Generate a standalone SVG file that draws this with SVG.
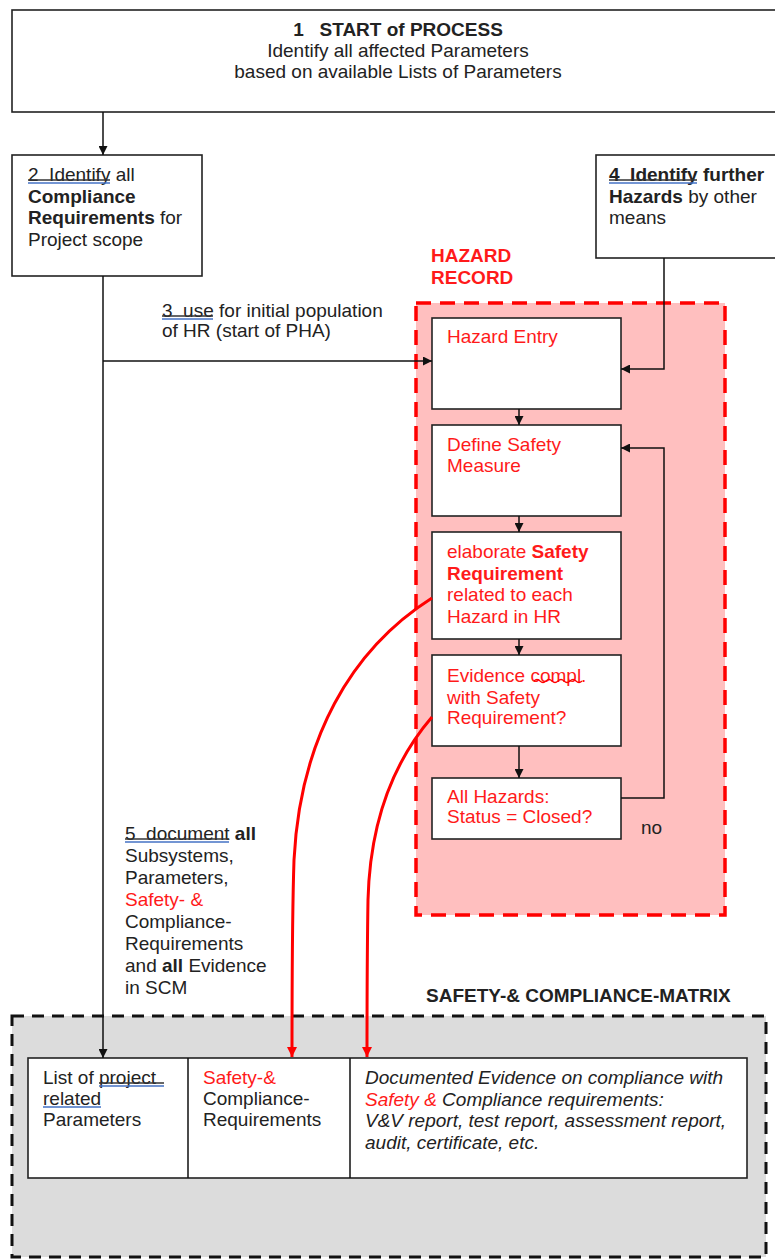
<svg xmlns="http://www.w3.org/2000/svg" width="775" height="1259" viewBox="0 0 775 1259">
  <defs>
    <marker id="ah" viewBox="0 0 10 10" refX="10" refY="5" markerWidth="9" markerHeight="9" markerUnits="userSpaceOnUse" orient="auto">
      <path d="M0,0 L10,5 L0,10 z" fill="#111"/>
    </marker>
    <marker id="ahr" viewBox="0 0 10 10" refX="10" refY="5" markerWidth="10" markerHeight="10" markerUnits="userSpaceOnUse" orient="auto">
      <path d="M0,0 L10,5 L0,10 z" fill="#ff0000"/>
    </marker>
    <style>
      text { font-family: "Liberation Sans", Arial, sans-serif; font-size: 19px; fill: #222; white-space: pre; }
      .b { font-weight: bold; }
      .r { fill: #ff1a1a; }
      .i { font-style: italic; }
      .box { fill: #ffffff; stroke: #222; stroke-width: 1.6; }
      .ln { fill: none; stroke: #111; stroke-width: 1.5; }
      .red { fill: none; stroke: #ff0000; stroke-width: 3; }
      .strike { stroke: #333; stroke-width: 1.3; fill: none; }
      .blue { stroke: #4472c4; stroke-width: 1.3; fill: none; }
    </style>
  </defs>

  <rect width="775" height="1259" fill="#ffffff"/>

  <!-- containers -->
  <g id="hazard-record">
    <rect x="416" y="303" width="309" height="612" fill="#ffbfbf" stroke="#ff0000" stroke-width="3.5" stroke-dasharray="15 9"/>
    <text class="b r" x="431" y="262">HAZARD</text>
    <text class="b r" x="431" y="284">RECORD</text>
  </g>

  <g id="scm">
    <rect x="12" y="1016" width="754" height="241" fill="#dcdcdc" stroke="#111" stroke-width="3" stroke-dasharray="12 8"/>
    <text class="b" x="426" y="1002" font-size="18">SAFETY-&amp; COMPLIANCE-MATRIX</text>
  </g>

  <!-- nodes -->
  <g id="n1-start">
    <rect class="box" x="12" y="10" width="780" height="102"/>
    <text x="398" y="36" text-anchor="middle" class="b">1&#160;&#160; START of PROCESS</text>
    <text x="398" y="57" text-anchor="middle">Identify all affected Parameters</text>
    <text x="398" y="78" text-anchor="middle">based on available Lists of Parameters</text>
  </g>

  <g id="n2-compliance">
    <rect class="box" x="12" y="155" width="190" height="121"/>
    <text x="28" y="181">2&#160; Identify all</text>
    <text x="28" y="203" class="b">Compliance</text>
    <text x="28" y="224"><tspan class="b">Requirements</tspan> for</text>
    <text x="28" y="246">Project scope</text>
    <path class="strike" d="M28,180 H110"/>
    <path class="blue" d="M28,183 H110"/>
  </g>

  <g id="n4-further-hazards">
    <rect class="box" x="596" y="155" width="190" height="103"/>
    <text x="609" y="181" class="b">4&#160; Identify further</text>
    <text x="609" y="203"><tspan class="b">Hazards</tspan> by other</text>
    <text x="609" y="224">means</text>
    <path class="strike" d="M609,180 H697"/>
    <path class="blue" d="M609,183 H697"/>
  </g>

  <g id="n-hazard-entry">
    <rect class="box" x="432" y="318" width="189" height="91"/>
    <text class="r" x="447" y="343">Hazard Entry</text>
  </g>

  <g id="n-define-measure">
    <rect class="box" x="432" y="425" width="189" height="91"/>
    <text class="r" x="447" y="451">Define Safety</text>
    <text class="r" x="447" y="472">Measure</text>
  </g>

  <g id="n-elaborate">
    <rect class="box" x="432" y="532" width="189" height="107"/>
    <text class="r" x="447" y="558">elaborate <tspan class="b">Safety</tspan></text>
    <text class="r b" x="447" y="580">Requirement</text>
    <text class="r" x="447" y="601">related to each</text>
    <text class="r" x="447" y="623">Hazard in HR</text>
  </g>

  <g id="n-evidence">
    <rect class="box" x="432" y="655" width="189" height="91"/>
    <text class="r" x="447" y="682">Evidence compl.</text>
    <text class="r" x="447" y="704">with Safety</text>
    <text class="r" x="447" y="724">Requirement?</text>
    <path d="M534,681 q3,-3 6,0 t6,0 t6,0 t6,0 t6,0 t6,0 t6,0 t6,0" fill="none" stroke="#ff0000" stroke-width="1.2"/>
  </g>

  <g id="n-all-closed">
    <rect class="box" x="432" y="778" width="189" height="61"/>
    <text class="r" x="447" y="803">All Hazards:</text>
    <text class="r" x="447" y="823">Status = Closed?</text>
  </g>

  <g id="n-matrix-table">
    <rect class="box" x="28" y="1058" width="719" height="120"/>
    <path class="ln" d="M188,1058 V1178 M350,1058 V1178"/>
    <text x="43" y="1084">List of project</text>
    <text x="43" y="1105">related</text>
    <text x="43" y="1126">Parameters</text>
    <path class="strike" d="M99,1083 H164"/>
    <path class="blue" d="M99,1086 H164 M43,1107 H101"/>
    <text class="r" x="203" y="1084">Safety-&amp;</text>
    <text x="203" y="1105">Compliance-</text>
    <text x="203" y="1126">Requirements</text>
    <text class="i" x="365" y="1084">Documented Evidence on compliance with</text>
    <text class="i" x="365" y="1106"><tspan class="r">Safety &amp;</tspan> Compliance requirements:</text>
    <text class="i" x="365" y="1127">V&amp;V report, test report, assessment report,</text>
    <text class="i" x="365" y="1149">audit, certificate, etc.</text>
  </g>

  <!-- connectors -->
  <g id="connectors">
    <path class="ln" d="M103,112 V155" marker-end="url(#ah)"/>
    <path class="ln" d="M103,276 V1058" marker-end="url(#ah)"/>
    <path class="ln" d="M103,361 H432" marker-end="url(#ah)"/>
    <path class="ln" d="M664,258 V369 H621" marker-end="url(#ah)"/>
    <path class="ln" d="M519,409 V425" marker-end="url(#ah)"/>
    <path class="ln" d="M519,516 V532" marker-end="url(#ah)"/>
    <path class="ln" d="M519,639 V655" marker-end="url(#ah)"/>
    <path class="ln" d="M519,746 V778" stroke-width="2.5" marker-end="url(#ah)"/>
    <path class="ln" d="M621,798 H664 V448 H621" marker-end="url(#ah)"/>
    <path class="red" d="M432,598 C350,650 300,740 294,860 C292,920 292,980 292,1057" marker-end="url(#ahr)"/>
    <path class="red" d="M432,717 C395,760 370,820 368,900 C367,960 367,1000 367,1057" marker-end="url(#ahr)"/>

    <text x="162" y="317">3&#160; use for initial population</text>
    <text x="162" y="337">of HR (start of PHA)</text>
    <path class="strike" d="M162,316 H213"/>
    <path class="blue" d="M162,319 H213"/>

    <text x="641" y="834">no</text>

    <text x="125" y="840">5&#160; document <tspan class="b">all</tspan></text>
    <text x="125" y="862">Subsystems,</text>
    <text x="125" y="884">Parameters,</text>
    <text x="125" y="906" class="r">Safety- &amp;</text>
    <text x="125" y="928">Compliance-</text>
    <text x="125" y="950">Requirements</text>
    <text x="125" y="972">and <tspan class="b">all</tspan> Evidence</text>
    <text x="125" y="994">in SCM</text>
    <path class="strike" d="M125,839 H229"/>
    <path class="blue" d="M125,842 H229"/>
  </g>
</svg>
